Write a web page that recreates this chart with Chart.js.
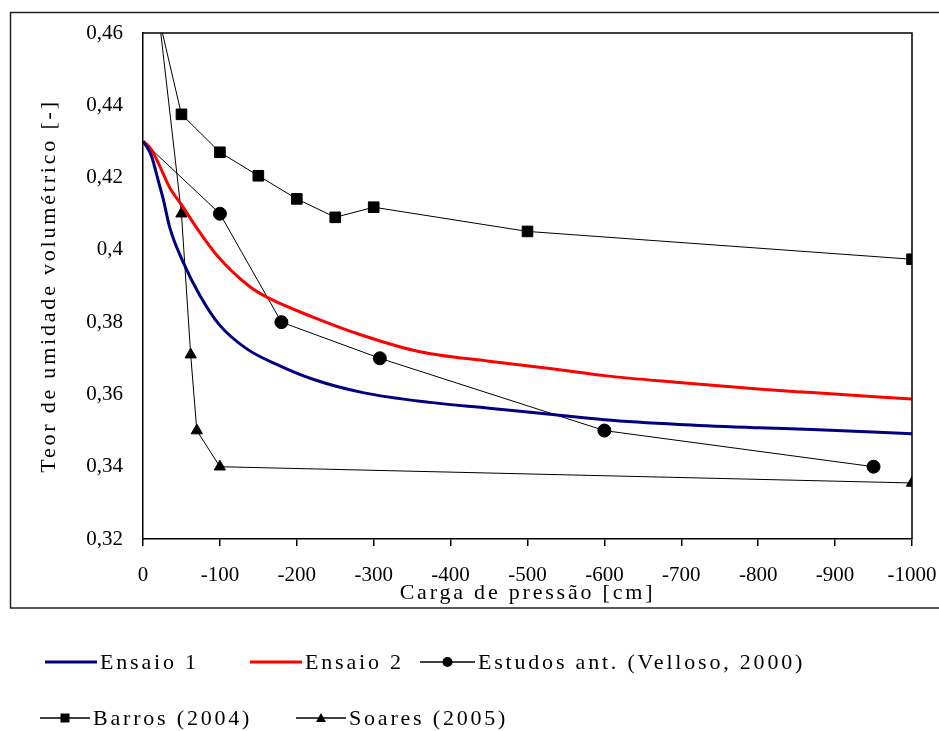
<!DOCTYPE html>
<html>
<head>
<meta charset="utf-8">
<script src="https://cdn.jsdelivr.net/npm/chart.js@4.4.1/dist/chart.umd.min.js"></script>
<style>
  body { margin: 0; background: #fff; }
  #wrap { position: relative; width: 939px; height: 731px; overflow: hidden; }
  #chart { position: absolute; left: 0; top: 0; }
  .leg { position: absolute; display: flex; align-items: center; white-space: nowrap;
         font: 22px "Liberation Serif", "Times New Roman", serif; letter-spacing: 2.8px; color: #000; }
  .leg svg { display: block; margin-right: 3px; }
</style>
</head>
<body>
<div id="wrap">
  <canvas id="chart" width="939" height="731"></canvas>
</div>
<script>
// tick values / labels
const xTicks = [0, -100, -200, -300, -400, -500, -600, -700, -800, -900, -1000];
const xTickLabels = ['0', '-100', '-200', '-300', '-400', '-500', '-600', '-700', '-800', '-900', '-1000'];
const yTicks = [0.32, 0.34, 0.36, 0.38, 0.40, 0.42, 0.44, 0.46];
const yTickLabels = ['0,32', '0,34', '0,36', '0,38', '0,4', '0,42', '0,44', '0,46'];

// Ensaio 1 (blue)
const ensaio1X = [0, -5, -11, -20, -26, -35, -52, -74, -100, -135, -178, -221, -286, -373, -450, -529, -600, -697, -800, -870, -1000];
const ensaio1Y = [0.43, 0.4285, 0.426, 0.419, 0.4143, 0.406, 0.3967, 0.3874, 0.3791, 0.3726, 0.3679, 0.3642, 0.3605, 0.3578, 0.3562, 0.3545, 0.3530, 0.3517, 0.3508, 0.3503, 0.3491];

// Ensaio 2 (red)
const ensaio2X = [0, -5, -11, -20, -35, -50, -70, -96, -139, -165, -221, -286, -360, -450, -529, -600, -697, -800, -870, -1000];
const ensaio2Y = [0.43, 0.4292, 0.4277, 0.424, 0.4171, 0.4125, 0.406, 0.3985, 0.3898, 0.3865, 0.3814, 0.3763, 0.3718, 0.3692, 0.3672, 0.3652, 0.3633, 0.3615, 0.3605, 0.3587];

// Estudos ant. (Velloso, 2000)
const vellosoX = [0, -100, -180, -308, -600, -950];
const vellosoY = [0.43, 0.41, 0.38, 0.37, 0.35, 0.34];

// Barros (2004)
const barrosX = [0, -50, -100, -150, -200, -250, -300, -500, -1000];
const barrosY = [0.483, 0.4375, 0.427, 0.4205, 0.4141, 0.409, 0.4118, 0.4051, 0.3974];

// Soares (2005)
const soaresX = [0, -50, -62, -70, -100, -1000];
const soaresY = [0.503, 0.41, 0.371, 0.35, 0.34, 0.3355];

const FONT = '"Liberation Serif", "Times New Roman", serif';

function pts(xs, ys) {
  return xs.map((x, i) => ({ x: x, y: ys[i] }));
}
// no marker on the first point
function firstHidden(n, r) {
  return Array.from({ length: n }, (_, i) => (i === 0 ? 0 : r));
}

// outer frame + plot box
const framePlugin = {
  id: 'frame',
  beforeDraw(chart) {
    const c = chart.ctx;
    c.save();
    c.fillStyle = '#fff';
    c.fillRect(0, 0, chart.width, chart.height);
    c.strokeStyle = '#222';
    c.lineWidth = 1.5;
    c.strokeRect(10.5, 12.5, 940, 595.5);
    c.restore();
  },
  afterDraw(chart) {
    const a = chart.chartArea;
    const c = chart.ctx;
    c.save();
    c.strokeStyle = '#000';
    c.lineWidth = 1.5;
    c.beginPath();
    c.moveTo(a.left, a.top);
    c.lineTo(a.right, a.top);
    c.lineTo(a.right, a.bottom);
    c.stroke();
    c.restore();
  },
  // spaced-out axis titles like the original
  afterLayout(chart) {
    Object.values(chart.scales).forEach(s => {
      if (s._wrapped) return;
      const orig = s.drawTitle;
      s.drawTitle = function () {
        this.ctx.save();
        this.ctx.letterSpacing = '2.8px';
        orig.apply(this, arguments);
        this.ctx.restore();
      };
      s._wrapped = true;
    });
  }
};

const chart = new Chart(document.getElementById('chart'), {
  type: 'line',
  data: {
    datasets: [
      {
        label: 'Ensaio 1',
        data: pts(ensaio1X, ensaio1Y),
        borderColor: '#000080',
        borderWidth: 3,
        pointRadius: 0,
        cubicInterpolationMode: 'monotone'
      },
      {
        label: 'Ensaio 2',
        data: pts(ensaio2X, ensaio2Y),
        borderColor: '#ff0000',
        borderWidth: 3,
        pointRadius: 0,
        cubicInterpolationMode: 'monotone'
      },
      {
        label: 'Estudos ant. (Velloso, 2000)',
        data: pts(vellosoX, vellosoY),
        borderColor: '#000',
        backgroundColor: '#000',
        borderWidth: 1,
        pointStyle: 'circle',
        pointRadius: firstHidden(vellosoX.length, 6.5),
        tension: 0
      },
      {
        label: 'Barros (2004)',
        data: pts(barrosX, barrosY),
        borderColor: '#000',
        backgroundColor: '#000',
        borderWidth: 1,
        pointStyle: 'rect',
        pointRadius: firstHidden(barrosX.length, 7.5),
        tension: 0
      },
      {
        label: 'Soares (2005)',
        data: pts(soaresX, soaresY),
        borderColor: '#000',
        backgroundColor: '#000',
        borderWidth: 1,
        pointStyle: 'triangle',
        pointRadius: firstHidden(soaresX.length, 6.5),
        tension: 0
      }
    ]
  },
  options: {
    responsive: false,
    animation: false,
    events: [],
    layout: { padding: { left: 0, top: 33, right: 27, bottom: 112 } },
    plugins: {
      legend: { display: false },
      tooltip: { enabled: false }
    },
    scales: {
      x: {
        type: 'linear',
        min: -1000,
        max: 0,
        reverse: true,
        afterBuildTicks: s => { s.ticks = xTicks.map(v => ({ value: v })); },
        afterFit: s => { s.height = 80; },
        ticks: {
          callback: (v, i) => xTickLabels[i],
          autoSkip: false,
          maxRotation: 0,
          padding: 2,
          color: '#000',
          font: { family: FONT, size: 21, lineHeight: 2.57 }
        },
        grid: {
          drawOnChartArea: false,
          drawTicks: true,
          tickLength: 7,
          color: '#000',
          lineWidth: 1.5
        },
        border: { display: true, color: '#000', width: 1.5 },
        title: {
          display: true,
          text: 'Carga de pressão [cm]',
          color: '#000',
          font: { family: FONT, size: 22 },
          padding: { top: 0, bottom: 13 }
        }
      },
      y: {
        type: 'linear',
        min: 0.32,
        max: 0.46,
        afterBuildTicks: s => { s.ticks = yTicks.map(v => ({ value: v })); },
        afterFit: s => { s.width = 143; },
        ticks: {
          callback: (v, i) => yTickLabels[i],
          padding: 20,
          color: '#000',
          font: { family: FONT, size: 21 }
        },
        grid: { display: false, drawTicks: false },
        border: { display: true, color: '#000', width: 1.5 },
        title: {
          display: true,
          text: 'Teor de umidade volumétrico [-]',
          color: '#000',
          font: { family: FONT, size: 22 },
          padding: { top: 36, bottom: 0 }
        }
      }
    }
  },
  plugins: [framePlugin]
});

// legend below the chart: line (+ marker) then label
const legendPos = [
  { left: 45, top: 662, w: 52 },
  { left: 250, top: 662, w: 52 },
  { left: 420, top: 662, w: 55 },
  { left: 40, top: 718, w: 50 },
  { left: 296, top: 718, w: 50 }
];

function markerSvg(ds, w) {
  const h = 20, cy = 10, cx = w / 2;
  let m = '';
  if (ds.pointStyle === 'circle') m = `<circle cx="${cx}" cy="${cy}" r="5" fill="#000"/>`;
  if (ds.pointStyle === 'rect') m = `<rect x="${cx - 4.5}" y="${cy - 4.5}" width="9" height="9" fill="#000"/>`;
  if (ds.pointStyle === 'triangle') m = `<polygon points="${cx - 5},${cy + 4} ${cx + 5},${cy + 4} ${cx},${cy - 5}" fill="#000"/>`;
  const sw = ds.borderWidth < 2 ? 1.5 : ds.borderWidth;
  return `<svg width="${w}" height="${h}"><line x1="0" y1="${cy}" x2="${w}" y2="${cy}" stroke="${ds.borderColor}" stroke-width="${sw}"/>${m}</svg>`;
}

const wrap = document.getElementById('wrap');
chart.data.datasets.forEach((ds, i) => {
  const p = legendPos[i];
  const el = document.createElement('div');
  el.className = 'leg';
  el.style.left = p.left + 'px';
  el.style.top = (p.top - 13) + 'px';
  el.innerHTML = markerSvg(ds, p.w) + '<span></span>';
  el.querySelector('span').textContent = ds.label;
  wrap.appendChild(el);
});
</script>
</body>
</html>
